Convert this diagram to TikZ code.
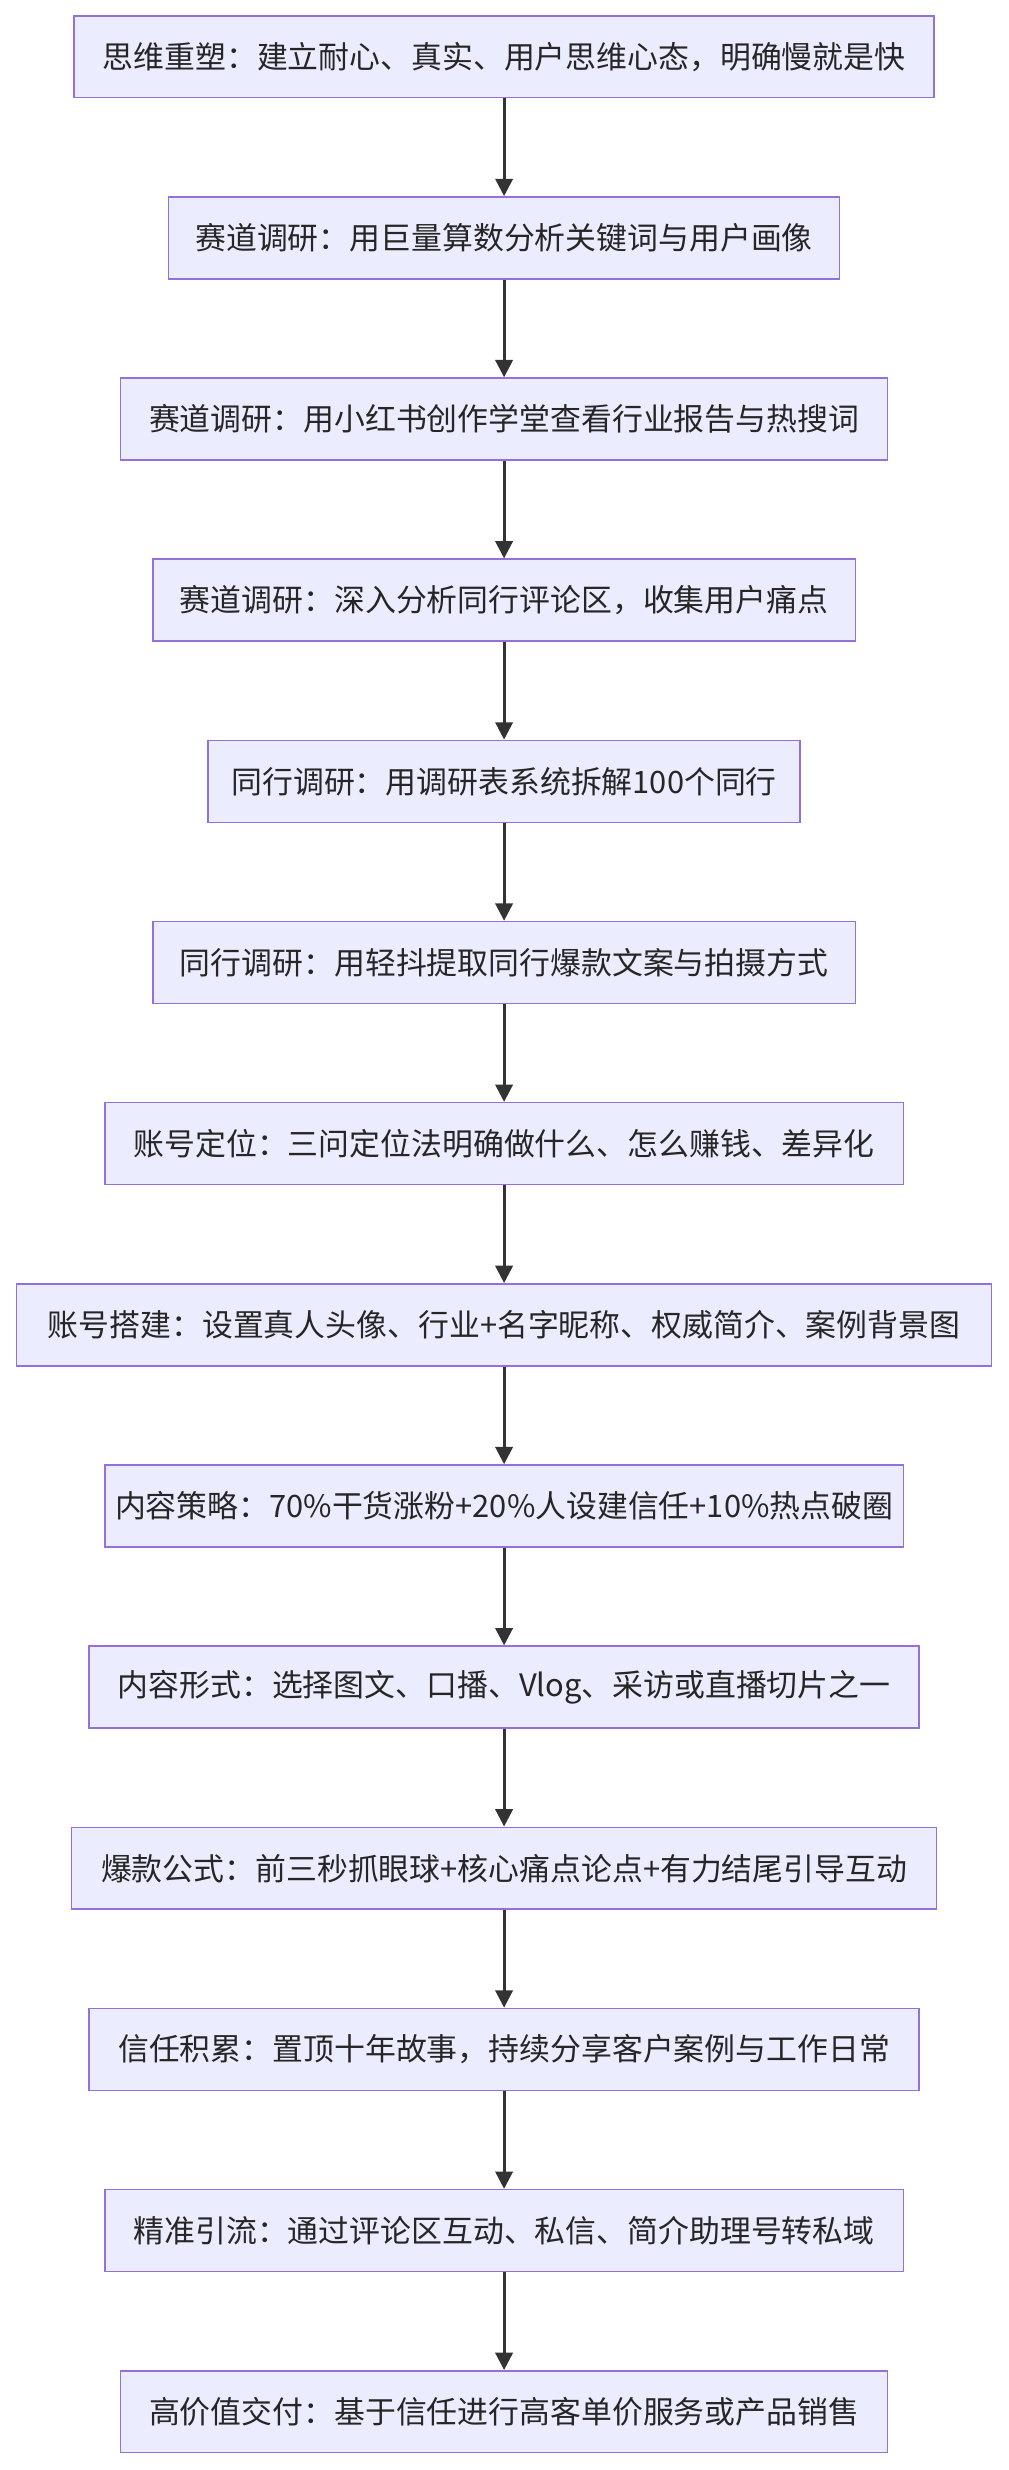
\documentclass[tikz,border=0pt]{standalone}
\usepackage{fontspec}
\setmainfont{Noto Sans CJK SC}
\usetikzlibrary{arrows.meta}
\definecolor{boxfill}{HTML}{ECECFF}
\definecolor{boxline}{HTML}{9370DB}
\definecolor{arr}{HTML}{333333}
\begin{document}
\begin{tikzpicture}[x=1pt,y=-1pt,
  stepbox/.style={draw=boxline,fill=boxfill,line width=1pt,minimum height=52pt,inner sep=0pt,font=\fontsize{19.6}{21}\selectfont,text=black!85},
  link/.style={draw=arr,line width=1.8pt,-{Triangle[length=11pt,width=11pt]}}]
\useasboundingbox (0,0) rectangle (640,1568);
\def\rows{
 1/47/593/{思维重塑：建立耐心、真实、用户思维心态，明确慢就是快},
 2/106/532/{赛道调研：用巨量算数分析关键词与用户画像},
 3/76/563/{赛道调研：用小红书创作学堂查看行业报告与热搜词},
 4/96/542/{赛道调研：深入分析同行评论区，收集用户痛点},
 5/131/507/{同行调研：用调研表系统拆解100个同行},
 6/96/542/{同行调研：用轻抖提取同行爆款文案与拍摄方式},
 7/66/573/{账号定位：三问定位法明确做什么、怎么赚钱、差异化},
 8/10/629/{账号搭建：设置真人头像、行业+名字昵称、权威简介、案例背景图},
 9/66/573/{内容策略：70\%干货涨粉+20\%人设建信任+10\%热点破圈},
 10/56/583/{内容形式：选择图文、口播、Vlog、采访或直播切片之一},
 11/45/594/{爆款公式：前三秒抓眼球+核心痛点论点+有力结尾引导互动},
 12/56/583/{信任积累：置顶十年故事，持续分享客户案例与工作日常},
 13/66/573/{精准引流：通过评论区互动、私信、简介助理号转私域},
 14/76/563/{高价值交付：基于信任进行高客单价服务或产品销售}}
\foreach \i/\l/\r/\t in \rows {
  \pgfmathsetmacro\w{\r-\l}
  \pgfmathsetmacro\cy{36+115*(\i-1)}
  \node[stepbox,minimum width=\w pt] (n\i) at (320,\cy) {\t};
}
\foreach \i [evaluate=\i as \j using int(\i+1)] in {1,...,13}
  \draw[link] (n\i) -- (n\j);
\end{tikzpicture}
\end{document}
